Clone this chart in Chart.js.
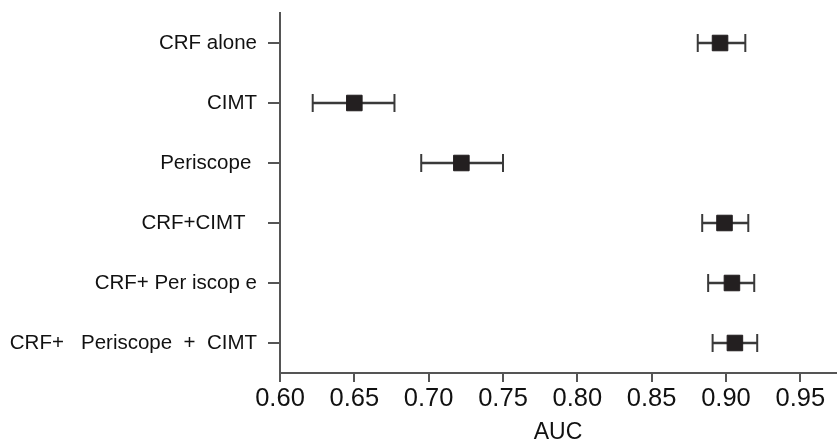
<!DOCTYPE html>
<html>
<head>
<meta charset="utf-8">
<script src="https://cdn.jsdelivr.net/npm/chart.js@4"></script>
<style>
html, body { margin: 0; padding: 0; background: #fff; }
</style>
</head>
<body>
<canvas id="mycanvas" width="837" height="446"></canvas>
<script>
var models = ['CRF alone', 'CIMT', 'Periscope ', 'CRF+CIMT  ', 'CRF+ Per iscop e', 'CRF+   Periscope  +  CIMT']
var auc = [0.896, 0.650, 0.722, 0.899, 0.904, 0.906]
var lower = [0.881, 0.622, 0.695, 0.884, 0.888, 0.891]
var upper = [0.913, 0.677, 0.750, 0.915, 0.919, 0.921]
var xTicks = [0.60, 0.65, 0.70, 0.75, 0.80, 0.85, 0.90, 0.95]

var ink = '#231f20'
var axisGrey = '#555'
var fontFamily = 'Liberation Sans, Arial, sans-serif'

var boxes = models.map(function(m, i){ return {x: auc[i], y: m} })
var caps = []
models.forEach(function(m, i){
    caps.push({x: lower[i], y: m})
    caps.push({x: upper[i], y: m})
})
var whiskers = models.map(function(m, i){ return [lower[i], upper[i]] })

var context = document.getElementById('mycanvas').getContext('2d')

var chart = new Chart(context, {
    type: 'bar',
    data: {
        labels: models,
        datasets: [{
            type: 'line',
            label: 'AUC',
            data: boxes,
            showLine: false,
            pointStyle: 'rect',
            pointRadius: 11,
            pointBackgroundColor: ink,
            pointBorderColor: ink,
            pointBorderWidth: 1
        }, {
            type: 'line',
            label: 'CI caps',
            data: caps,
            showLine: false,
            pointStyle: 'line',
            pointRotation: 90,
            pointRadius: 9,
            pointBorderColor: '#3a3a3a',
            pointBorderWidth: 2
        }, {
            label: '95% CI',
            data: whiskers,
            barThickness: 2,
            backgroundColor: '#3a3a3a'
        }]
    },
    options: {
        responsive: false,
        animation: false,
        indexAxis: 'y',
        layout: { autoPadding: false, padding: { top: 13, right: 1, left: 0, bottom: 0 } },
        plugins: {
            legend: { display: false },
            tooltip: { enabled: false }
        },
        scales: {
            x: {
                type: 'linear',
                min: 0.6,
                max: 0.974,
                afterBuildTicks: function(scale){
                    scale.ticks = xTicks.map(function(v){ return {value: v} })
                },
                afterFit: function(scale){
                    scale.height = 73
                    scale.paddingLeft = 0
                    scale.paddingRight = 0
                },
                ticks: {
                    color: '#111',
                    padding: 2,
                    maxRotation: 0,
                    font: { family: fontFamily, size: 25.5 },
                    callback: function(v){ return Number(v).toFixed(2) }
                },
                grid: { drawOnChartArea: false, tickLength: 9, color: axisGrey, lineWidth: 2 },
                border: { color: axisGrey, width: 2 },
                title: {
                    display: true,
                    text: 'AUC',
                    color: '#111',
                    padding: { top: 0, bottom: 0 },
                    font: { family: fontFamily, size: 23 }
                }
            },
            y: {
                type: 'category',
                offset: true,
                afterFit: function(scale){
                    scale.width = 280
                    scale.paddingTop = 0
                    scale.paddingBottom = 0
                },
                ticks: {
                    color: '#111',
                    padding: 11,
                    font: { family: fontFamily, size: 20.5 }
                },
                grid: { drawOnChartArea: false, offset: false, tickLength: 12, color: axisGrey, lineWidth: 2 },
                border: { color: axisGrey, width: 2 }
            }
        }
    }
})
</script>
</body>
</html>
